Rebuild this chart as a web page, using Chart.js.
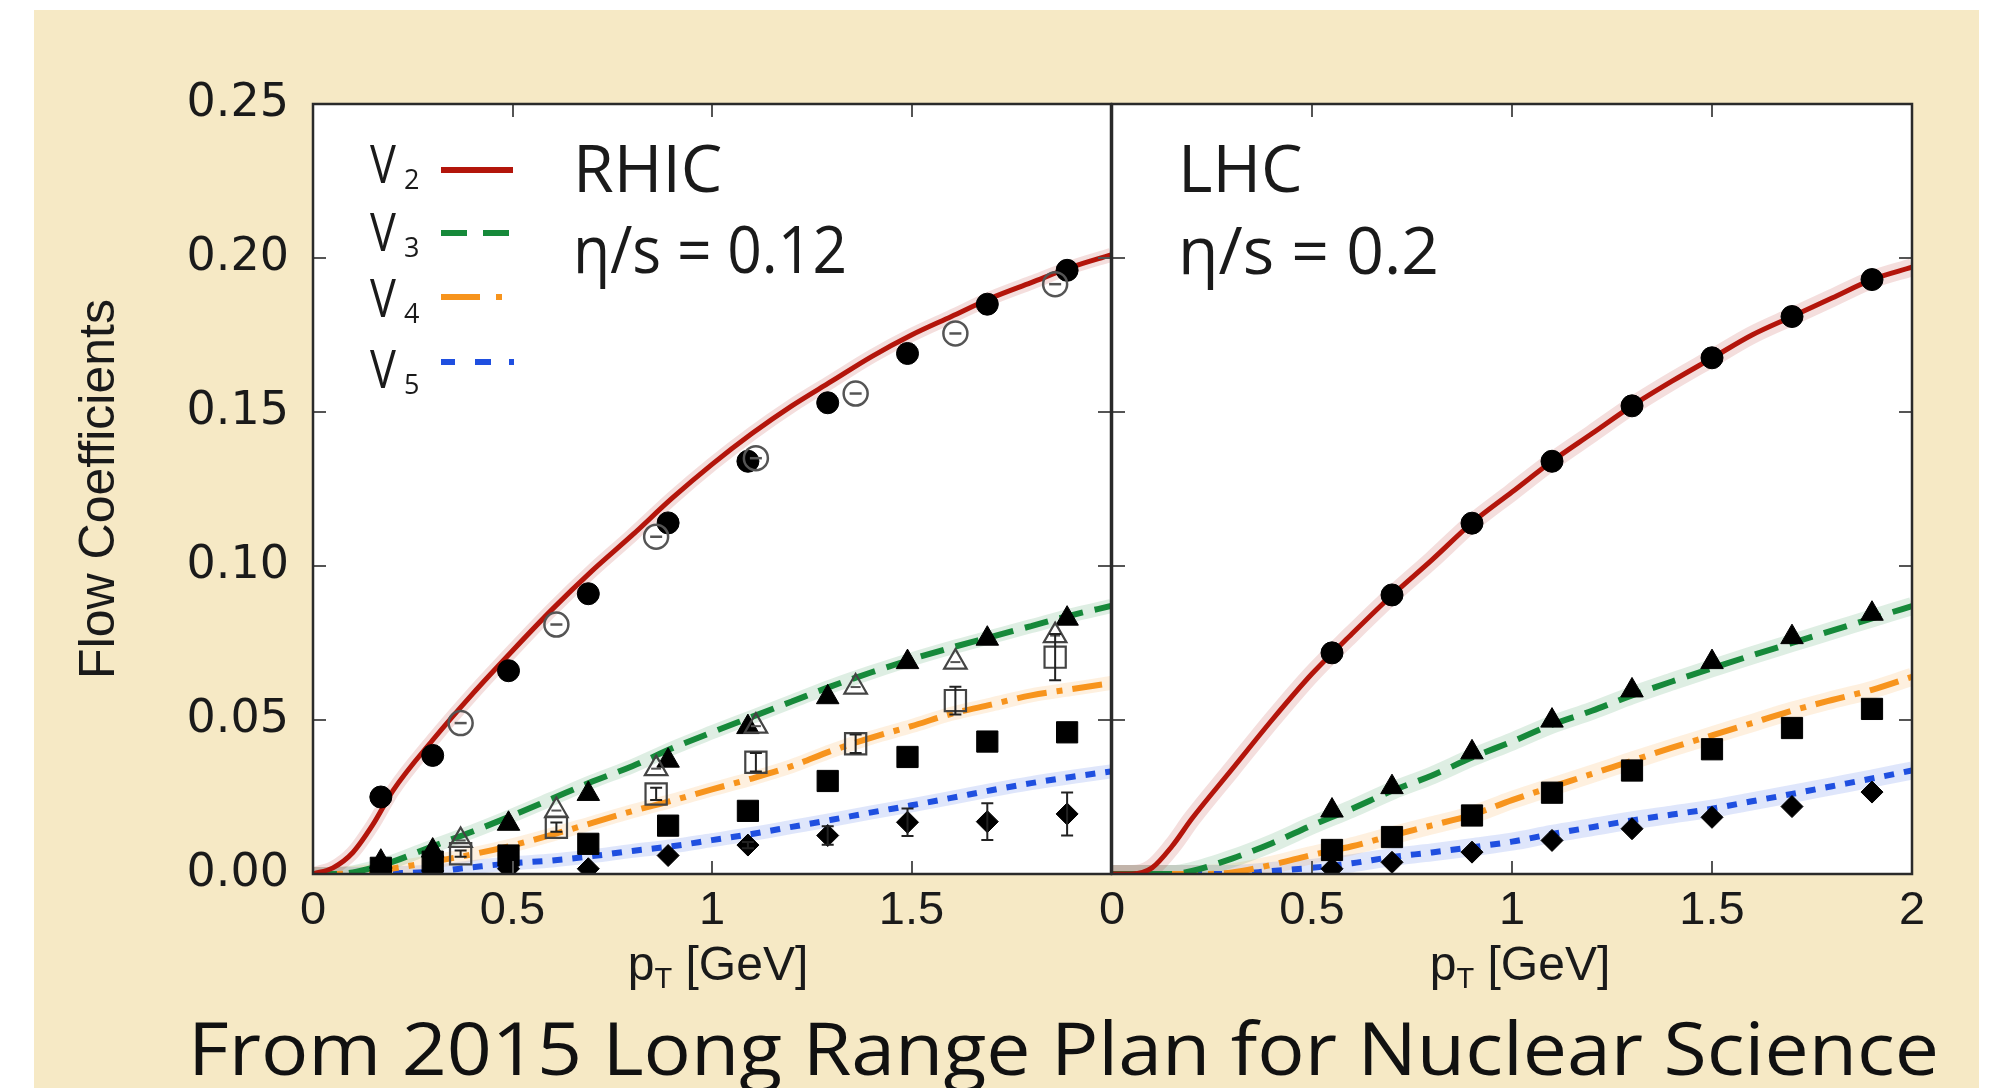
<!DOCTYPE html>
<html><head><meta charset="utf-8">
<script src="https://cdn.jsdelivr.net/npm/chart.js@4.4.1/dist/chart.umd.min.js"></script>
<style>
html,body{margin:0;padding:0;width:1994px;height:1088px;overflow:hidden;background:#fff;}
#bg{position:absolute;left:34px;top:10px;width:1945px;height:1078px;background:#F6E9C5;}
canvas{position:absolute;left:0;top:0;}
svg{position:absolute;left:0;top:0;}
</style></head><body>
<div id="bg"></div>
<canvas id="c1" width="1994" height="1088"></canvas>
<canvas id="c2" width="1994" height="1088"></canvas>
<svg width="1994" height="1088" xmlns="http://www.w3.org/2000/svg">
  <g font-family="Open Sans" fill="#1a1a1a">
    <text x="573" y="192" font-size="66">RHIC</text>
    <text x="573" y="273" font-size="66" textLength="274" lengthAdjust="spacingAndGlyphs">η/s = 0.12</text>
    <text x="1178" y="192" font-size="66">LHC</text>
    <text x="1178" y="274" font-size="66">η/s = 0.2</text>
    <text transform="translate(370,183) scale(0.82,1)" font-size="53">V</text><text x="404" y="189" font-size="27">2</text>
    <text transform="translate(370,251) scale(0.82,1)" font-size="53">V</text><text x="404" y="257" font-size="27">3</text>
    <text transform="translate(370,317) scale(0.82,1)" font-size="53">V</text><text x="404" y="323" font-size="27">4</text>
    <text transform="translate(370,388) scale(0.82,1)" font-size="53">V</text><text x="404" y="394" font-size="27">5</text>
  </g>
  <line x1="441" y1="170" x2="513" y2="170" stroke="#b3150b" stroke-width="6"/>
  <line x1="441" y1="233" x2="511" y2="233" stroke="#16893a" stroke-width="6" stroke-dasharray="26 16"/>
  <line x1="441" y1="297" x2="503" y2="297" stroke="#f7941d" stroke-width="6" stroke-dasharray="39 16 6 16"/>
  <line x1="441" y1="362" x2="514" y2="362" stroke="#1f4fe0" stroke-width="6" stroke-dasharray="14 20 16 18 6 40"/>
  <g font-family="Liberation Sans" fill="#1a1a1a" font-size="48">
    <text x="718" y="980" text-anchor="middle">p<tspan font-size="29" dy="8">T</tspan><tspan dy="-8"> [GeV]</tspan></text>
    <text x="1520" y="980" text-anchor="middle">p<tspan font-size="29" dy="8">T</tspan><tspan dy="-8"> [GeV]</tspan></text>
  </g>
  <text x="188" y="1075" font-family="Open Sans" font-size="73" fill="#111" textLength="1751" lengthAdjust="spacingAndGlyphs">From 2015 Long Range Plan for Nuclear Science</text>
</svg>
<script>
// ---------- data ----------
const yTickLabels = ["0.00","0.05","0.10","0.15","0.20","0.25"];
const xTickLabelsLeft = ["0","0.5","1","1.5",""];
const xTickLabelsRight = ["0","0.5","1","1.5","2"];

const curvePt = [0,0.05,0.1,0.15,0.2,0.3,0.4,0.5,0.6,0.7,0.8,0.9,1.0,1.1,1.2,1.3,1.4,1.5,1.6,1.7,1.8,1.9,2.0];
const rhicV2Curve = [0,0.002,0.007,0.016,0.027,0.0435,0.0585,0.0725,0.086,0.0985,0.110,0.122,0.133,0.143,0.152,0.160,0.168,0.175,0.181,0.187,0.192,0.197,0.201];
const rhicV3Curve = [0,0,0.0005,0.002,0.004,0.009,0.0138,0.019,0.0245,0.030,0.035,0.0408,0.046,0.051,0.056,0.061,0.0655,0.0697,0.0735,0.077,0.0805,0.084,0.087];
const rhicV4Curve = [0,0,0.0003,0.001,0.0018,0.004,0.0064,0.0093,0.0128,0.0166,0.0204,0.0238,0.0275,0.031,0.035,0.040,0.0443,0.048,0.052,0.055,0.058,0.060,0.062];
const rhicV5Curve = [0,0,0,0,0.0002,0.0008,0.0022,0.0035,0.0044,0.0058,0.0075,0.009,0.011,0.013,0.0153,0.0176,0.020,0.0223,0.0247,0.0272,0.0295,0.0315,0.0333];

const lhcV2Curve = [0,0,0.002,0.009,0.018,0.034,0.050,0.065,0.078,0.0905,0.102,0.114,0.124,0.134,0.143,0.152,0.160,0.1675,0.175,0.181,0.187,0.193,0.197];
const lhcV3Curve = [0,0,0,0,0.001,0.005,0.010,0.0158,0.0212,0.027,0.032,0.0378,0.043,0.0485,0.053,0.058,0.0625,0.0668,0.071,0.075,0.079,0.083,0.087];
const lhcV4Curve = [0,0,0,0,0,0.0005,0.003,0.0062,0.009,0.0125,0.0158,0.0192,0.024,0.0283,0.0325,0.0368,0.041,0.045,0.049,0.053,0.0565,0.0598,0.064];
const lhcV5Curve = [0,0,0,0,0,0,0.001,0.002,0.0035,0.0055,0.007,0.0087,0.0105,0.013,0.0152,0.0174,0.0193,0.0212,0.0236,0.026,0.0285,0.031,0.0336];

// RHIC data set A (filled symbols)
const rhicPtA = [0.17,0.30,0.49,0.69,0.89,1.09,1.29,1.49,1.69,1.89];
const rhicV2A = [0.025,0.0385,0.066,0.091,0.114,0.134,0.153,0.169,0.185,0.196];
const rhicV3A = [0.004,0.0076,0.0163,0.026,0.0368,0.0477,0.0574,0.0688,0.0764,0.0829];
const rhicV4A = [0.002,0.004,0.006,0.0098,0.0157,0.0205,0.0302,0.038,0.043,0.046];
const rhicV5A = [0.001,0.001,0.0017,0.0017,0.006,0.0094,0.0125,0.0168,0.017,0.0195];
const rhicV5AErr = [0,0,0,0,0,0.001,0.003,0.0045,0.006,0.007];
// RHIC data set B (open symbols)
const rhicPtB = [0.37,0.61,0.86,1.11,1.36,1.61,1.86];
const rhicV2B = [0.049,0.081,0.1095,0.135,0.156,0.1755,0.1915];
const rhicV3B = [0.0109,0.0206,0.0342,0.048,0.0607,0.0688,0.0774];
const rhicV4B = [0.0066,0.0152,0.026,0.0363,0.0423,0.0563,0.0704];
const rhicV4BErr = [0.001,0.0015,0.002,0.003,0.003,0.0045,0.0075];

// LHC data
const lhcPt = [0.55,0.70,0.90,1.10,1.30,1.50,1.70,1.90];
const lhcV2 = [0.0718,0.0906,0.1139,0.134,0.152,0.1676,0.181,0.193];
const lhcV3 = [0.0206,0.0282,0.0395,0.0498,0.0596,0.0688,0.0769,0.0845];
const lhcV4 = [0.0078,0.012,0.019,0.0264,0.0336,0.0405,0.0474,0.0536];
const lhcV5 = [0.0017,0.0038,0.0071,0.0109,0.0147,0.0184,0.0219,0.0266];

// ---------- helpers ----------
const xy = (xs, ys) => xs.map((x, i) => ({x, y: ys[i]}));
const COL = {v2:'#b3150b', v3:'#16893a', v4:'#f7941d', v5:'#1f4fe0'};
const BAND = {v2:'rgba(179,21,11,0.14)', v3:'rgba(22,137,58,0.14)', v4:'rgba(247,148,29,0.14)', v5:'rgba(31,79,224,0.14)'};
const DASH = {v2:[], v3:[24,12], v4:[30,10,6,10], v5:[10,10]};

function curveSets(curves, bandW) {
  const out = [];
  ['v2','v3','v4','v5'].forEach((k, i) => {
    out.push({data: xy(curvePt, curves[i]), showLine: true, borderColor: COL[k], borderWidth: k==='v2'?5:6,
      borderDash: DASH[k], borderCapStyle: 'butt', pointRadius: 0, cubicInterpolationMode: 'monotone', order: 2});
    out.push({data: xy(curvePt, curves[i]), showLine: true, borderColor: BAND[k], borderWidth: bandW,
      pointRadius: 0, cubicInterpolationMode: 'monotone', order: 3});
  });
  return out;
}
function pts(data, style, r, filled, extra) {
  return Object.assign({data, showLine: false, pointStyle: style, pointRadius: r, pointHoverRadius: r,
    pointBackgroundColor: filled ? '#000' : 'rgba(255,255,255,0)', pointBorderColor: filled ? '#000' : '#444',
    pointBorderWidth: filled ? 1 : 2.2, order: 0}, extra || {});
}

const panelPlugin = {
  id: 'panel',
  beforeDraw(chart) {
    const {ctx, chartArea: a} = chart;
    ctx.save(); ctx.fillStyle = '#fff';
    ctx.fillRect(a.left, a.top, a.right - a.left, a.bottom - a.top); ctx.restore();
  },
  afterDatasetsDraw(chart) {
    const ctx = chart.ctx, xs = chart.scales.x, ys = chart.scales.y;
    chart.data.datasets.forEach(ds => {
      if (!ds.errorBars) return;
      ctx.save(); ctx.strokeStyle = '#222'; ctx.lineWidth = 2;
      ds.data.forEach((p, j) => {
        const e = ds.errorBars[j]; if (!e) return;
        const px = xs.getPixelForValue(p.x), y1 = ys.getPixelForValue(p.y - e), y2 = ys.getPixelForValue(p.y + e);
        ctx.beginPath(); ctx.moveTo(px, y1); ctx.lineTo(px, y2);
        ctx.moveTo(px - 6, y1); ctx.lineTo(px + 6, y1); ctx.moveTo(px - 6, y2); ctx.lineTo(px + 6, y2);
        ctx.stroke();
      });
      ctx.restore();
    });
  },
  afterDraw(chart) {
    const {ctx, chartArea: a} = chart, xs = chart.scales.x, ys = chart.scales.y;
    ctx.save();
    ctx.strokeStyle = '#555'; ctx.lineWidth = 2;
    const L = 13;
    xs.ticks.forEach(t => {
      if (t.value <= xs.min || t.value >= xs.max) return;
      const px = Math.round(xs.getPixelForValue(t.value));
      ctx.beginPath(); ctx.moveTo(px, a.bottom); ctx.lineTo(px, a.bottom - L);
      ctx.moveTo(px, a.top); ctx.lineTo(px, a.top + L); ctx.stroke();
    });
    ys.ticks.forEach(t => {
      if (t.value <= ys.min || t.value >= ys.max) return;
      const py = Math.round(ys.getPixelForValue(t.value));
      ctx.beginPath(); ctx.moveTo(a.left, py); ctx.lineTo(a.left + L, py);
      ctx.moveTo(a.right, py); ctx.lineTo(a.right - L, py); ctx.stroke();
    });
    ctx.strokeStyle = '#2a2a2a'; ctx.lineWidth = 2.5;
    ctx.strokeRect(a.left, a.top, a.right - a.left, a.bottom - a.top);
    ctx.restore();
  }
};

const XH = 100;
function baseScales(xLabels, showY) {
  return {
    x: {type: 'linear', min: 0, max: 2,
      ticks: {stepSize: 0.5, autoSkip: false, maxRotation: 0, padding: 9, color: '#1a1a1a',
        font: {family: 'Liberation Sans', size: 47}, callback: (v, i) => xLabels[i]},
      grid: {display: false, drawTicks: false}, border: {display: false},
      afterFit: s => { s.height = XH; }},
    y: {type: 'linear', min: 0, max: 0.25, display: showY,
      ticks: {stepSize: 0.05, padding: 24, color: '#1a1a1a',
        font: {family: 'DejaVu Sans', size: 46}, callback: (v, i) => yTickLabels[i]},
      grid: {display: false, drawTicks: false}, border: {display: false},
      title: {display: showY, text: 'Flow Coefficients', color: '#1a1a1a',
        font: {family: 'Liberation Sans', size: 50}, padding: {top: 70, bottom: 0}},
      afterFit: s => { if (showY) s.width = 313; }}
  };
}
const common = {responsive: false, animation: false, devicePixelRatio: 1,
  plugins: {legend: {display: false}, tooltip: {enabled: false}}, events: []};

new Chart(document.getElementById('c1'), {
  type: 'scatter',
  data: {datasets: [
    pts(xy(rhicPtB, rhicV2B), 'line', 6, false, {pointBorderColor: '#555', pointBorderWidth: 2.5}),
    pts(xy(rhicPtB, rhicV2B), 'circle', 12, false, {pointBorderColor: '#555', pointBorderWidth: 2.5}),
    pts(xy(rhicPtA, rhicV2A), 'circle', 11, true),
    pts(xy(rhicPtB, rhicV3B), 'line', 5, false, {pointBorderColor: '#555', pointBorderWidth: 2}),
    pts(xy(rhicPtB, rhicV3B), 'triangle', 13, false),
    pts(xy(rhicPtA, rhicV3A), 'triangle', 13, true),
    pts(xy(rhicPtB, rhicV4B), 'rect', 15, false, {errorBars: rhicV4BErr}),
    pts(xy(rhicPtA, rhicV4A), 'rect', 15, true),
    pts(xy(rhicPtA, rhicV5A), 'rectRot', 11, true, {errorBars: rhicV5AErr}),
    ...curveSets([rhicV2Curve, rhicV3Curve, rhicV4Curve, rhicV5Curve], 14)
  ]},
  options: Object.assign({}, common, {
    layout: {padding: {left: 0, right: 1994 - 1111, top: 104, bottom: 1088 - 874 - XH}},
    scales: baseScales(xTickLabelsLeft, true)}),
  plugins: [panelPlugin]
});

new Chart(document.getElementById('c2'), {
  type: 'scatter',
  data: {datasets: [
    pts(xy(lhcPt, lhcV2), 'circle', 11, true),
    pts(xy(lhcPt, lhcV3), 'triangle', 13, true),
    pts(xy(lhcPt, lhcV4), 'rect', 15, true),
    pts(xy(lhcPt, lhcV5), 'rectRot', 11, true),
    ...curveSets([lhcV2Curve, lhcV3Curve, lhcV4Curve, lhcV5Curve], 18)
  ]},
  options: Object.assign({}, common, {
    layout: {padding: {left: 1112, right: 1994 - 1912, top: 104, bottom: 1088 - 874 - XH}},
    scales: baseScales(xTickLabelsRight, false)}),
  plugins: [panelPlugin]
});
</script>
</body></html>
